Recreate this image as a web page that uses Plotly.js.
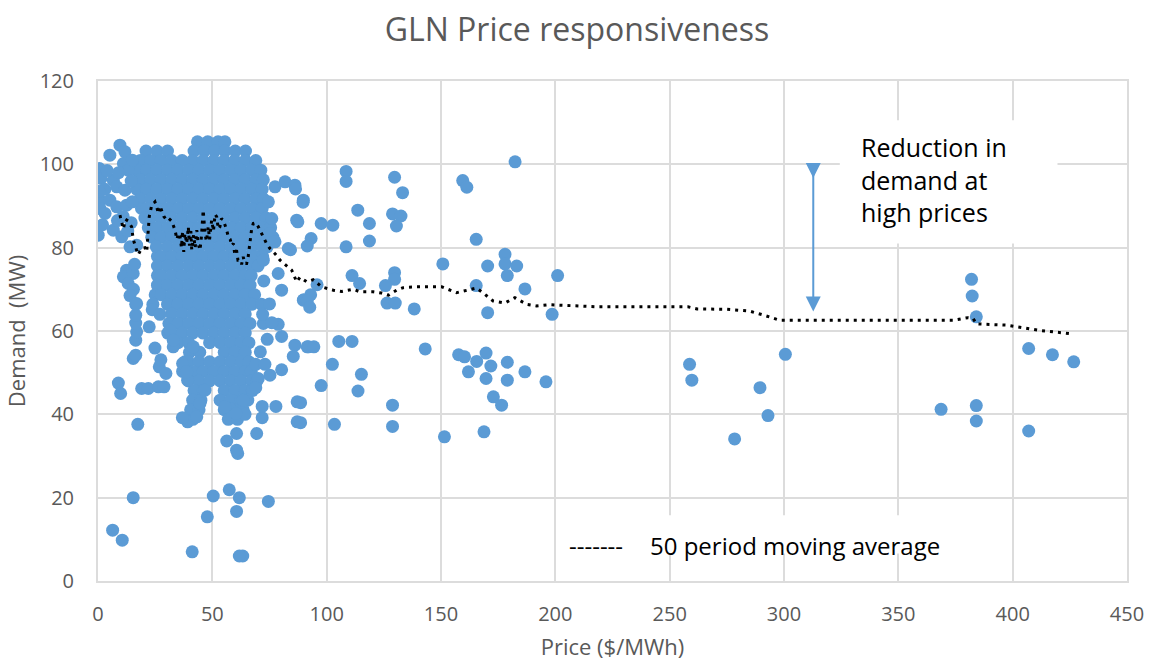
<!DOCTYPE html>
<html>
<head>
<meta charset="utf-8">
<script src="https://cdn.plot.ly/plotly-3.0.1.min.js"></script>
<style>html,body{margin:0;padding:0;background:#fff}#chart{width:1154px;height:661px}</style>
</head>
<body>
<div id="chart"></div>
<script>
// ---- Data (Price $/MWh, Demand MW) ----

// dense cloud of half-hourly observations, read row by row: [demand, [prices...]]
var blobRows = [
  [105.4, [43.5, 48, 52.5, 55.5]],
  [103.2, [21, 25.8, 30.4, 42, 46.5, 51, 55.5, 60, 64.5]],
  [100.9, [18.5, 23, 27.6, 32.2, 36.8, 41.4, 46, 50.6, 55.2, 59.8, 64.4, 69]],
  [98.6,  [17, 21.2, 25.8, 30.4, 35, 39.6, 44.2, 48.8, 53.4, 58, 62.6, 67.2, 71.2]],
  [96.3,  [18.5, 23, 27.6, 32.2, 36.8, 41.4, 46, 50.6, 55.2, 59.8, 64.4, 69, 72.3]],
  [94.0,  [17, 21.2, 25.8, 30.4, 35, 39.6, 44.2, 48.8, 53.4, 58, 62.6, 67.2, 71.8]],
  [91.7,  [18.5, 23, 27.6, 32.2, 36.8, 41.4, 46, 50.6, 55.2, 59.8, 64.4, 69, 72.3]],
  [89.4,  [19, 21.2, 25.8, 30.4, 35, 39.6, 44.2, 48.8, 53.4, 58, 62.6, 67.2, 71.8]],
  [87.1,  [20.5, 23, 27.6, 32.2, 36.8, 41.4, 46, 50.6, 55.2, 59.8, 64.4, 69, 73.5]],
  [84.8,  [22, 25.8, 30.4, 35, 39.6, 44.2, 48.8, 53.4, 58, 62.6, 67.2, 71.8, 75.5]],
  [82.5,  [23.5, 27.6, 32.2, 36.8, 41.4, 46, 50.6, 55.2, 59.8, 64.4, 69, 73.5, 76.5]],
  [80.2,  [25.5, 30.4, 35, 39.6, 44.2, 48.8, 53.4, 58, 62.6, 67.2, 71.8, 74]],
  [77.9,  [26, 27.6, 32.2, 36.8, 41.4, 46, 50.6, 55.2, 59.8, 64.4, 69, 72]],
  [75.6,  [26, 30.4, 35, 39.6, 44.2, 48.8, 53.4, 58, 62.6, 67.2, 70]],
  [73.3,  [26, 27.6, 32.2, 36.8, 41.4, 46, 50.6, 55.2, 59.8, 64.4, 67]],
  [71.0,  [26, 30.4, 35, 39.6, 44.2, 48.8, 53.4, 58, 62.6, 66.5]],
  [68.7,  [25, 27.6, 32.2, 36.8, 41.4, 46, 50.6, 55.2, 59.8, 64.4, 68.5]],
  [66.4,  [24, 30.4, 35, 39.6, 44.2, 48.8, 53.4, 58, 62.6, 67.2, 71.5]],
  [64.1,  [32.2, 36.8, 41.4, 46, 50.6, 55.2, 59.8, 64.4]],
  [61.8,  [31, 35, 39.6, 44.2, 48.8, 53.4, 58, 62.6, 66.5]],
  [59.5,  [30.5, 32.2, 36.8, 41.4, 46, 50.6, 55.2, 59.8, 64.4]],
  [57.2,  [35, 39.6, 48.8, 53.4, 58, 62.6, 66]],
  [54.9,  [40, 44.5, 55.2, 59.8, 64.4]],
  [52.6,  [38, 39.6, 44.2, 48.8, 53.4, 58, 62.6, 66]],
  [50.3,  [37, 41.4, 46, 50.6, 55.2, 59.8, 64.4, 67]],
  [48.0,  [39.6, 44.2, 48.8, 53.4, 58, 62.6, 67.2, 69.5]],
  [45.7,  [42, 46, 55.2, 59.8, 64.4, 67.5]],
  [43.4,  [41.4, 45, 53.4, 58, 62.6, 65.5]],
  [41.1,  [40.5, 44.2, 55.2, 59.8, 63.5]],
  [38.8,  [41.5, 57, 61]]
];

// low-price cluster near $0-17
var leftPts = [
  [0.6,99.0],[1.3,96.6],[0.9,91.4],[0.9,89.4],[0.1,83.0],[5.2,102.2],[9.6,104.6],[11.8,103.0],
  [11.1,100.2],[13.2,98.6],[6.7,96.2],[8.2,94.6],[11.8,93.8],[5.2,91.4],[8.2,89.8],[3.1,88.2],
  [12.5,90.2],[6.7,84.2],[10.4,82.6],[14,80.2],[12.5,74.6],[11.1,73.0],[15.4,73.8],[13.2,71.4],
  [16.9,66.6],[16.9,80.6],[14.5,96],[15,91],[14.5,86],[3,94],[0.5,93.5],[2,85.5],[8.5,86.5],
  [11,87.5],[13,84],[4,98.5],[15,101],[9,98],[16,76],[15.5,70],[14,68.5]
];

// scattered points around and below the cloud
var lowPts = [
  [17.4,37.6],[8.9,47.5],[9.9,45.0],[15.4,20.0],[6.4,12.2],[10.6,9.8],[41.2,7.0],[63.3,6.0],
  [61.8,6.0],[50.4,20.4],[57.4,21.9],[61.8,20.0],[60.6,16.7],[47.8,15.4],[74.5,19.1],[61.1,30.6],
  [60.6,31.4],[56.3,33.6],[60.6,35.4],[69.4,35.4],[71.8,39.2],[71.8,41.9],[77.8,41.9],[87.1,43.0],
  [87.1,38.2],[64.3,40.0],[39.2,38.2],[36.9,39.2],[43.2,39.4],[44.6,42.6],[46.8,45.8],[19.1,46.2],
  [22.0,46.2],[26.4,46.6],[28.9,46.6],[26.8,51.4],[29.7,49.8],[27.5,53.1],[15.4,53.4],[16.5,54.2],
  [24.9,55.9],[16.5,57.8],[16.9,59.8],[16.5,61.9],[16.5,63.8],[16.5,66.4],[22.4,61.0],[23.7,65.1],
  [27.1,64.0],[31.5,60.2],[32.9,56.2],[32.9,57.8],[37.0,52.2],[39.2,48.2],[38.8,50.2],[41.7,56.2],
  [78.8,61.6],[80.3,58.7],[86.1,56.6],[85.4,53.9],[92,56.2],[80.3,50.7],[75.2,49.4],[70.1,48.6],
  [72.3,61.8],[69,46.4],[63.5,43.4],[57.7,41.4],[60.3,40.2],[55.5,41.8]
];

// points just right of the cloud ($70-95)
var nearPts = [
  [77.4,94.6],[81.8,95.8],[86.1,95.0],[89.8,91.4],[86.9,86.6],[83.2,79.8],[75.2,83.4],[77.4,81.4],
  [72.3,77],[78.8,73.8],[80.3,69.8],[89.8,67.4],[76,87],[74.5,91],[72.5,72],[75,66.5],[72,64],
  [76,62],[74,58],[71,55],[69,52],[73,52]
];

// mid-price points ($85-205)
var midPts = [
  [86.4,94.1],[89.7,90.9],[87.4,86.2],[97.6,85.8],[102.7,85.4],[93.2,82.2],[91.5,80.4],[84.2,79.5],
  [108.5,98.3],[108.5,95.9],[113.6,89.0],[118.7,85.8],[118.7,81.6],[108.5,80.2],[129.7,96.9],
  [133.2,93.2],[128.8,88.1],[132.5,87.6],[130.5,85.2],[111.1,73.3],[114.4,71.4],[129.7,74.0],
  [129.7,72.4],[125.7,70.9],[159.5,96.1],[161.3,94.5],[182.4,100.6],[165.4,82.0],[150.8,76.1],
  [170.4,75.6],[178.0,78.4],[178.0,76.1],[183.1,75.6],[179.0,73.3],[165.4,70.9],[186.7,70.1],
  [93,68.7],[90,67.5],[91.5,67.2],[92.6,65.7],[95.8,71.1],[126.4,66.7],[130,66.7],[138.3,65.3],
  [170.4,64.4],[198.6,64.0],[201.0,73.3],[91.5,56.2],[94.4,56.2],[105.3,57.5],[111.1,57.5],
  [102.5,52.0],[115.2,49.6],[97.6,46.9],[113.7,45.6],[88.6,42.8],[128.8,42.2],[88.6,38.0],
  [103.4,37.6],[128.8,37.1],[143.1,55.7],[151.5,34.6],[157.7,54.3],[160.3,53.8],[165.6,52.7],
  [169.7,54.7],[171.8,51.6],[179.0,52.5],[162.0,50.2],[169.7,48.6],[179.0,48.2],[186.7,50.2],
  [195.9,47.8],[172.9,44.2],[176.5,42.2],[168.8,35.8]
];

// high-price points ($250+)
var highPts = [
  [258.7,52.0],[259.7,48.2],[300.6,54.4],[289.5,46.4],[293.0,39.7],[278.4,34.1],[382,72.4],
  [382.3,68.4],[384.1,63.4],[407.0,55.8],[417.4,54.3],[426.7,52.6],[368.7,41.2],[384.1,42.1],
  [384.1,38.4],[407.0,36.0]
];

// 50 period moving average (price, demand)
var maPrice = [9.6,10.4,11.1,12,13.2,14.7,15.4,16.9,17.6,19,20.5,21.3,22,22.4,23.5,24.9,25.8,26.4,27.1,27.9,28.8,30,31,32.2,33,33.7,34.5,35.2,35.9,36.5,37,37.5,38,38.8,39.5,40,40.6,41,41.8,42.5,43.2,43.8,44.6,45.2,46,46.4,46.8,47.4,48.2,48.8,49.7,50.5,51.2,51.9,52.6,53.3,54,54.8,55.5,56.3,57,57.8,58.5,59.2,59.8,60.6,61.2,62.1,62.8,63.5,64.2,65,65.6,66.2,66.5,67.2,67.9,69,70.1,71,72.3,73.7,75.2,77.5,79.6,82,84.7,86.9,88.3,91.3,94.1,97.8,102.9,106.6,111.6,114.6,120.4,124,127,130.6,133.5,139.3,150.3,156.8,164.1,165.5,168.5,172.8,177.9,182.3,187.5,191.8,197.6,219,258,262,275,284.8,291.8,295.2,298,374,380.4,382.7,384.2,397.5,412.4,426.5];
var maDemand = [87.8,86,84.5,86.8,86.4,85,82,79.4,78.3,79.8,80,79,83.4,87.4,90.2,91,89.5,88.2,90,89,87.5,86.6,87,86.4,85,84.2,82,83.5,82.6,80,84,79,83.4,81,85,80.5,84,79.4,83,80,84.2,81,79.4,82.5,89,86,83.4,81.5,85,82,86.6,84,88,87.4,84.5,85,87,86.6,85.5,84.2,82.5,82,80.5,81,78.5,79.4,77,77,76,77.8,76.2,76.2,77.5,80,82.6,84.5,85.8,86,85,84,82.6,81,79.8,78.5,77,75.8,74.6,71.8,72.9,71.8,72.3,70.6,69.8,69.5,70,69.4,69.4,69.1,68.6,69.8,70.4,70.6,70.6,69.2,70,70.3,69.1,67.2,66.7,68,66.4,66,66.3,65.8,65.8,65.3,65.2,64.8,63.7,63,62.6,62.6,63.2,63,61.7,61.4,60.1,59.3];

var xTicks = [0,50,100,150,200,250,300,350,400,450];
var yTicks = [0,20,40,60,80,100,120];

// ---- build scatter arrays ----
var px = [], py = [];
blobRows.forEach(function(r){ r[1].forEach(function(p){ px.push(p); py.push(r[0]); }); });
[leftPts, lowPts, nearPts, midPts, highPts].forEach(function(g){
  g.forEach(function(pt){ px.push(pt[0]); py.push(pt[1]); });
});

var BLUE = '#5b9bd5', GRAY = '#595959', GRID = '#dcdcdc', FONT = 'Open Sans, sans-serif';

var traces = [
  {type:'scatter', mode:'markers', x:px, y:py, name:'Demand',
   marker:{size:13, color:BLUE, line:{width:0}}, hoverinfo:'skip', showlegend:false},
  {type:'scatter', mode:'lines', x:maPrice, y:maDemand, name:'50 period moving average',
   line:{color:'#000', width:3, dash:'3px,5px'}, hoverinfo:'skip', showlegend:false}
];

var layout = {
  width:1154, height:661,
  margin:{l:98, r:27, t:81, b:80},
  paper_bgcolor:'#fff', plot_bgcolor:'#fff',
  font:{family:FONT, color:GRAY},
  showlegend:false,
  title:{text:'GLN Price responsiveness', font:{family:FONT, size:32, color:GRAY},
         x:0.5, xanchor:'center', y:0.955, yanchor:'middle'},
  xaxis:{range:[0,450], tickvals:xTicks, ticktext:xTicks.map(String),
         showgrid:true, gridcolor:GRID, gridwidth:2, zeroline:false,
         showline:true, linecolor:GRID, linewidth:2, mirror:true,
         ticks:'outside', ticklen:14, tickcolor:'rgba(0,0,0,0)',
         tickfont:{family:FONT, size:20, color:GRAY},
         title:{text:'Price ($/MWh)', font:{family:FONT, size:22, color:GRAY}, standoff:16}},
  yaxis:{range:[0,120], tickvals:yTicks, ticktext:yTicks.map(String),
         showgrid:true, gridcolor:GRID, gridwidth:2, zeroline:false,
         showline:true, linecolor:GRID, linewidth:2, mirror:true,
         ticks:'outside', ticklen:18, tickcolor:'rgba(0,0,0,0)',
         tickfont:{family:FONT, size:20, color:GRAY},
         title:{text:'Demand\u00a0 (MW)', font:{family:FONT, size:22, color:GRAY}, standoff:8}},
  shapes:[
    {type:'rect', xref:'x', yref:'y', x0:324.4, x1:419.6, y0:81, y1:110.6,
     fillcolor:'#fff', line:{width:0}, layer:'between'},
    {type:'rect', xref:'x', yref:'y', x0:202, x1:379, y0:6.6, y1:15.8,
     fillcolor:'#fff', line:{width:0}, layer:'between'}
  ],
  annotations:[
    {xref:'x', yref:'y', x:312.8, y:64.7, axref:'x', ayref:'y', ax:312.8, ay:99.3,
     text:'', showarrow:true, arrowhead:2, arrowsize:1.5, arrowwidth:2, arrowcolor:BLUE},
    {xref:'x', yref:'y', x:312.8, y:96.7, axref:'x', ayref:'y', ax:312.8, ay:99.3,
     text:'', showarrow:true, arrowhead:2, arrowsize:1.5, arrowwidth:2, arrowcolor:BLUE},
    {xref:'x', yref:'y', x:333, y:96.3, xanchor:'left', yanchor:'middle', align:'left',
     text:'Reduction in<br>demand at<br>high prices', showarrow:false,
     font:{family:FONT, size:25, color:'#000'}},
    {xref:'x', yref:'y', x:205.3, y:8.6, xanchor:'left', yanchor:'middle',
     text:'-------', showarrow:false, font:{family:FONT, size:24, color:'#000'}},
    {xref:'x', yref:'y', x:240.5, y:8.6, xanchor:'left', yanchor:'middle',
     text:'50 period moving average', showarrow:false, font:{family:FONT, size:24, color:'#000'}}
  ]
};

Plotly.newPlot('chart', traces, layout, {displayModeBar:false, staticPlot:true});
</script>
</body>
</html>
